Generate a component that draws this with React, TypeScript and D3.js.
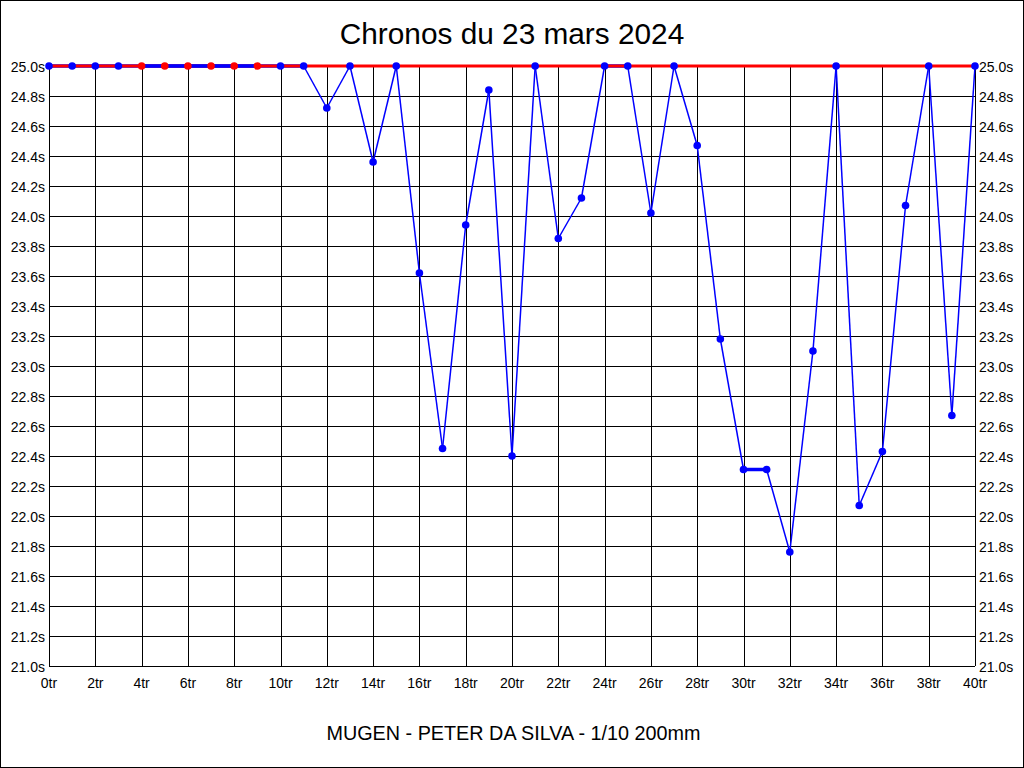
import React from "react";
import * as d3 from "d3";

const TITLE = "Chronos du 23 mars 2024";
const SUBTITLE = "MUGEN - PETER DA SILVA - 1/10 200mm";

const laps: number[] = d3.range(0, 41);
const lapTimes: number[] = [
  25.0, 25.0, 25.0, 25.0, 25.0, 25.0, 25.0, 25.0, 25.0, 25.0,
  25.0, 25.0, 24.72, 25.0, 24.36, 25.0, 23.62, 22.45, 23.94, 24.84,
  22.40, 25.0, 23.85, 24.12, 25.0, 25.0, 24.02, 25.0, 24.47, 23.18,
  22.31, 22.31, 21.76, 23.10, 25.0, 22.07, 22.43, 24.07, 25.0, 22.67,
  25.0,
];
const capValue = 25.0;
const redMarkerLaps: number[] = [4, 5, 6, 7, 8, 9];
const yTicks: number[] = d3.range(21.0, 25.0001, 0.2).map((v) => +v.toFixed(1));
const xTicks: number[] = d3.range(0, 41, 2);

const W = 1024;
const H = 768;
const left = 49;
const right = 975;
const top = 66;
const bottom = 666;
const FONT = "Arial, 'Liberation Sans', sans-serif";

export default function App() {
  const x = d3.scaleLinear().domain([0, 40]).range([left, right]);
  const y = d3.scaleLinear().domain([21, 25]).range([bottom, top]);
  const crisp = (v: number) => Math.round(v) + 0.5;

  const segs = laps.slice(0, -1).map((l, i) => ({
    x1: x(l),
    y1: y(lapTimes[i]),
    x2: x(laps[i + 1]),
    y2: y(lapTimes[i + 1]),
    flat: lapTimes[i] === lapTimes[i + 1],
    onTop: redMarkerLaps.includes(l) && redMarkerLaps.includes(laps[i + 1]),
  }));

  return (
    <div style={{ position: "fixed", left: 0, top: 0, width: W, height: H }}>
      <svg width={W} height={H} style={{ display: "block", background: "#fff" }}>
        <rect x={0.5} y={0.5} width={W - 1} height={H - 1} fill="#fff" stroke="#000" />
        {/* grid */}
        <g stroke="#000" strokeWidth={1} shapeRendering="crispEdges">
          {yTicks.map((t) => (
            <line key={"h" + t} x1={left} x2={right} y1={crisp(y(t))} y2={crisp(y(t))} />
          ))}
          {xTicks.map((t) => (
            <line key={"v" + t} x1={crisp(x(t))} x2={crisp(x(t))} y1={top} y2={bottom} />
          ))}
          <line x1={right} x2={right} y1={top} y2={bottom} />
        </g>
        {/* labels */}
        <g fontFamily={FONT} fontSize={14} fill="#000">
          {yTicks.map((t) => (
            <text key={"yl" + t} x={left - 4} y={y(t) + 5.5} textAnchor="end">
              {t.toFixed(1) + "s"}
            </text>
          ))}
          {yTicks.map((t) => (
            <text key={"yr" + t} x={right + 4} y={y(t) + 5.5} textAnchor="start">
              {t.toFixed(1) + "s"}
            </text>
          ))}
          {xTicks.map((t) => (
            <text key={"xl" + t} x={x(t)} y={688} textAnchor="middle">
              {t + "tr"}
            </text>
          ))}
        </g>
        {/* blue series */}
        <g stroke="#0000ff" fill="none">
          {segs.map((s, i) => (
            <line key={"s" + i} x1={s.x1} y1={s.y1} x2={s.x2} y2={s.y2} strokeWidth={s.flat ? 3.5 : 1.5} />
          ))}
        </g>
        {/* cap line */}
        <line x1={x(0)} x2={x(40)} y1={y(capValue)} y2={y(capValue)} stroke="#ff0000" strokeWidth={3} />
        <g stroke="#0000ff" fill="none">
          {segs.filter((s) => s.onTop).map((s, i) => (
            <line key={"t" + i} x1={s.x1} y1={s.y1} x2={s.x2} y2={s.y2} strokeWidth={3.5} />
          ))}
        </g>
        {/* markers */}
        {laps.map((l, i) => (
          <circle
            key={"m" + l}
            cx={x(l)}
            cy={y(lapTimes[i])}
            r={3.8}
            fill={redMarkerLaps.includes(l) ? "#ff0000" : "#0000ff"}
          />
        ))}
        <text x={W / 2} y={43.5} textAnchor="middle" fontFamily={FONT} fontSize={29.8} fill="#000">
          {TITLE}
        </text>
        <text x={513.5} y={740} textAnchor="middle" fontFamily={FONT} fontSize={19.8} fill="#000">
          {SUBTITLE}
        </text>
      </svg>
    </div>
  );
}
